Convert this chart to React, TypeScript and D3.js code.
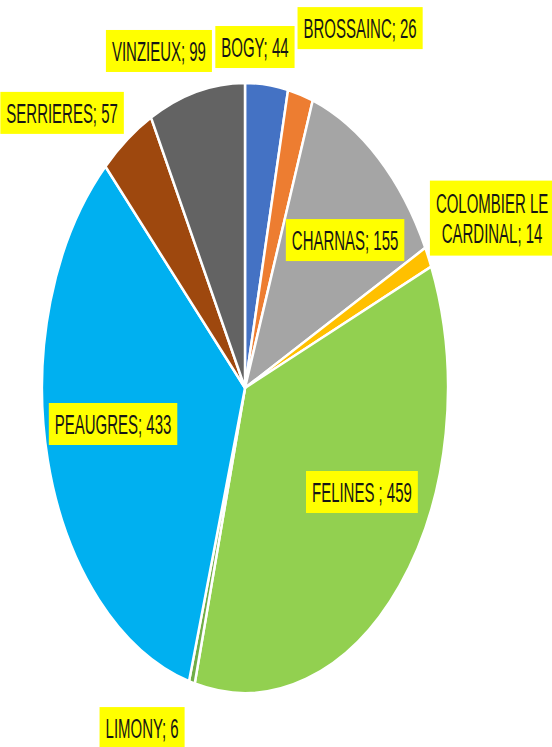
import React, { useEffect, useRef } from "react";
import * as d3 from "d3";

const categories = [
  "BOGY",
  "BROSSAINC",
  "CHARNAS",
  "COLOMBIER LE CARDINAL",
  "FELINES",
  "LIMONY",
  "PEAUGRES",
  "SERRIERES",
  "VINZIEUX",
];
const values = [44, 26, 155, 14, 459, 6, 433, 57, 99];
const labelTexts = [
  ["BOGY; 44"],
  ["BROSSAINC; 26"],
  ["CHARNAS; 155"],
  ["COLOMBIER LE", "CARDINAL; 14"],
  ["FELINES ; 459"],
  ["LIMONY; 6"],
  ["PEAUGRES; 433"],
  ["SERRIERES; 57"],
  ["VINZIEUX; 99"],
];
const colors = [
  "#4472C4",
  "#ED7D31",
  "#A5A5A5",
  "#FFC000",
  "#92D050",
  "#70AD47",
  "#00B0F0",
  "#9E480E",
  "#636363",
];
// label anchors in ellipse-relative units (u * rx, v * ry from centre)
const labelAnchors: [number, number][] = [
  [0.049, -1.118],
  [0.567, -1.18],
  [0.493, -0.485],
  [1.217, -0.557],
  [0.576, 0.341],
  [-0.507, 1.115],
  [-0.65, 0.118],
  [-0.901, -0.902],
  [-0.424, -1.105],
];

const W = 552;
const H = 747;
const cx = 245;
const cy = 388;
const rx = 203;
const ry = 305;
const textScale = 0.535;
const fontSize = 28;
const lineGap = 30;

export default function App() {
  const ref = useRef<SVGSVGElement | null>(null);

  useEffect(() => {
    const svg = d3.select(ref.current);
    svg.selectAll("*").remove();

    const data = categories.map((c, i) => ({ name: c, value: values[i], i }));
    const pie = d3
      .pie<any>()
      .sort(null)
      .value((d: any) => d.value)
      .startAngle(0)
      .endAngle(2 * Math.PI);
    const arc = d3.arc<any>().innerRadius(0).outerRadius(ry);

    const g = svg
      .append("g")
      .attr("transform", `translate(${cx},${cy}) scale(${rx / ry},1)`);
    g.selectAll("path")
      .data(pie(data))
      .enter()
      .append("path")
      .attr("d", arc as any)
      .attr("fill", (d: any) => colors[d.data.i])
      .attr("stroke", "#fff")
      .attr("stroke-width", 2.5)
      .attr("stroke-linejoin", "round")
      .attr("vector-effect", "non-scaling-stroke");

    const lg = svg.append("g");
    data.forEach((d, i) => {
      const [u, v] = labelAnchors[i];
      const x = cx + u * rx;
      const y = cy + v * ry;
      const lines = labelTexts[i];
      const grp = lg.append("g");
      const rect = grp.append("rect").attr("fill", "#FFFF00");
      const t = grp
        .append("text")
        .attr("font-family", "'Liberation Sans', Arial, sans-serif")
        .attr("font-size", fontSize)
        .attr("fill", "#151515")
        .attr("text-anchor", "middle")
        .attr("transform", `translate(${x},${y}) scale(${textScale},1)`);
      const n = lines.length;
      let maxW = 0;
      lines.forEach((ln, k) => {
        const ts = t
          .append("tspan")
          .attr("x", 0)
          .attr("y", (k - (n - 1) / 2) * lineGap + fontSize * 0.358)
          .text(ln);
        const w = (ts.node() as any).getComputedTextLength();
        if (w > maxW) maxW = w;
      });
      const bw = maxW * textScale + 12;
      const bh = 42 + (n - 1) * 33;
      rect
        .attr("x", x - bw / 2)
        .attr("y", y - bh / 2)
        .attr("width", bw)
        .attr("height", bh);
    });
  }, []);

  return (
    <svg
      ref={ref}
      width={W}
      height={H}
      style={{ position: "absolute", left: 0, top: 0, background: "#fff" }}
    />
  );
}
